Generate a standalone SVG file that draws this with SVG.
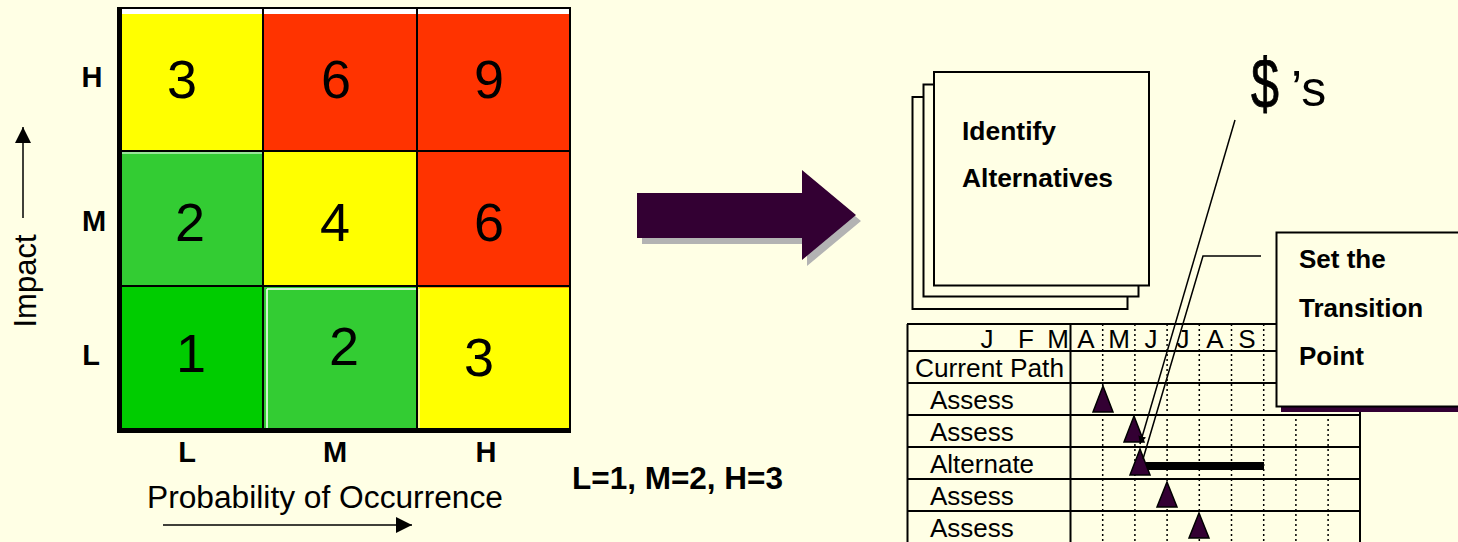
<svg xmlns="http://www.w3.org/2000/svg" width="1458" height="542" viewBox="0 0 1458 542">
<defs>
<style>
text{font-family:"Liberation Sans",Arial,sans-serif;fill:#000}
.num{font-size:54px;text-anchor:middle}
.ax{font-size:29px;font-weight:bold;text-anchor:middle}
.lbl{font-size:31px}
.bold{font-size:26px;font-weight:bold}
.g{font-size:26px}
.gm{font-size:26px;text-anchor:middle}
.gl{stroke:#000;stroke-width:2;fill:none}
.dot{stroke:#000;stroke-width:1.5;stroke-dasharray:2,3;fill:none}
.tri{fill:#330033;stroke:#000;stroke-width:1.5}
.page{fill:#FFFFE5;stroke:#000;stroke-width:2}
.ln{stroke:#000;stroke-width:1.5;fill:none}
</style>
<marker id="ah" viewBox="0 0 10 10" refX="10" refY="5" markerWidth="8" markerHeight="8" orient="auto" markerUnits="userSpaceOnUse">
<path d="M0,0 L10,5 L0,10 z" fill="#000"/>
</marker>
<marker id="axh" viewBox="0 0 10 10" refX="10" refY="5" markerWidth="16" markerHeight="16" orient="auto" markerUnits="userSpaceOnUse">
<path d="M0,0 L10,5 L0,10 z" fill="#000"/>
</marker>
</defs>
<rect width="1458" height="542" fill="#FFFFE5"/>

<g id="matrix">
<rect x="119" y="8" width="451" height="6" fill="#FFFFFF"/>
<rect x="122" y="14" width="141" height="137" fill="#FFFF00"/>
<rect x="263" y="14" width="154" height="137" fill="#FF3300"/>
<rect x="417" y="14" width="153" height="137" fill="#FF3300"/>
<rect x="122" y="152" width="141" height="134" fill="#33CC33"/>
<rect x="263" y="152" width="154" height="134" fill="#FFFF00"/>
<rect x="417" y="152" width="153" height="134" fill="#FF3300"/>
<rect x="122" y="287" width="141" height="141" fill="#00CC00"/>
<rect x="263" y="287" width="154" height="141" fill="#33CC33"/>
<rect x="417" y="287" width="153" height="141" fill="#FFFF00"/>
<line x1="122" y1="153" x2="263" y2="153" stroke="#FFFFFF" stroke-width="1"/>
<line x1="267" y1="289" x2="267" y2="428" stroke="#FFFFFF" stroke-width="1.5"/>
<line x1="267" y1="289" x2="417" y2="289" stroke="#FFFFFF" stroke-width="1.5"/>
<line x1="419" y1="289" x2="419" y2="428" stroke="#FFFFFF" stroke-width="1"/>
<line x1="419" y1="287" x2="570" y2="287" stroke="#FF3300" stroke-width="1"/>
<path class="gl" d="M119,8 H570 V430 M263,8 V430 M417,8 V430 M119,151 H570 M119,286 H570"/>
<line x1="119.5" y1="7" x2="119.5" y2="433" stroke="#000" stroke-width="5"/>
<line x1="117" y1="430.5" x2="571" y2="430.5" stroke="#000" stroke-width="5"/>
<text class="num" x="182" y="98">3</text>
<text class="num" x="336" y="98">6</text>
<text class="num" x="489" y="98">9</text>
<text class="num" x="190" y="241">2</text>
<text class="num" x="335" y="241">4</text>
<text class="num" x="489" y="241">6</text>
<text class="num" x="191" y="372">1</text>
<text class="num" x="344" y="365">2</text>
<text class="num" x="479" y="376">3</text>
</g>

<g id="axis-labels">
<text class="ax" x="92" y="87">H</text>
<text class="ax" x="94" y="231">M</text>
<text class="ax" x="91" y="365">L</text>
<text class="ax" x="187" y="462">L</text>
<text class="ax" x="335" y="462">M</text>
<text class="ax" x="486" y="462">H</text>
<text class="lbl" x="147" y="508" textLength="356" lengthAdjust="spacingAndGlyphs">Probability of Occurrence</text>
<text class="lbl" transform="translate(36,281) rotate(-90)" text-anchor="middle">Impact</text>
<text x="572" y="489" font-size="31" font-weight="bold" textLength="211" lengthAdjust="spacingAndGlyphs">L=1, M=2, H=3</text>
</g>

<g id="connectors">
<line class="ln" x1="163" y1="525" x2="412" y2="525" marker-end="url(#axh)"/>
<line class="ln" x1="23" y1="218" x2="23" y2="127" marker-end="url(#axh)"/>
</g>

<g id="big-arrow">
<polygon points="642,199 807,199 807,176 861,221 807,266 807,244 642,244" fill="#B3B3B3"/>
<polygon points="637,193 802,193 802,170 856,215 802,260 802,238 637,238" fill="#330033"/>
</g>

<g id="identify-alternatives">
<rect class="page" x="912.5" y="97" width="215" height="212"/>
<rect class="page" x="923.5" y="84.5" width="215" height="212"/>
<rect class="page" x="934" y="72" width="215" height="213.5"/>
<text class="bold" x="962" y="140" textLength="94" lengthAdjust="spacingAndGlyphs">Identify</text>
<text class="bold" x="962" y="187" textLength="151" lengthAdjust="spacingAndGlyphs">Alternatives</text>
</g>

<g id="schedule">
<path class="gl" d="M907,324 H1360 M907,351 H1360 M907,383 H1360 M907,415 H1360 M907,447 H1360 M907,479 H1360 M907,511 H1360 M907.5,324 V542 M1070.5,324 V542 M1360,324 V542"/>
<path class="dot" d="M1102.7,324 V542 M1134.9,324 V542 M1167.1,324 V542 M1199.3,324 V542 M1231.5,324 V542 M1263.7,324 V542 M1295.9,324 V542 M1328.1,324 V542"/>
<text class="gm" x="987" y="348">J</text>
<text class="gm" x="1026" y="348">F</text>
<text class="gm" x="1058" y="348">M</text>
<text class="gm" x="1086" y="348">A</text>
<text class="gm" x="1119" y="348">M</text>
<text class="gm" x="1151" y="348">J</text>
<text class="gm" x="1183" y="348">J</text>
<text class="gm" x="1215" y="348">A</text>
<text class="gm" x="1247" y="348">S</text>
<text class="g" x="915" y="377" textLength="149" lengthAdjust="spacingAndGlyphs">Current Path</text>
<text class="g" x="930" y="409">Assess</text>
<text class="g" x="930" y="441">Assess</text>
<text class="g" x="930" y="473">Alternate</text>
<text class="g" x="930" y="505">Assess</text>
<text class="g" x="930" y="537">Assess</text>
<polygon class="tri" points="1103,386 1113,412 1093,412"/>
<polygon class="tri" points="1134,416 1144,442 1124,442"/>
<line x1="1146" y1="466" x2="1264" y2="466" stroke="#000" stroke-width="8"/>
<polygon class="tri" points="1140,449 1150,475 1130,475"/>
<polygon class="tri" points="1167,482 1177,507 1157,507"/>
<polygon class="tri" points="1199,513 1209,538 1189,538"/>
</g>

<g id="dollars">
<text x="1251" y="108" font-size="70" textLength="28" lengthAdjust="spacingAndGlyphs" stroke="#000" stroke-width="0.8">$</text>
<text x="1291" y="106" font-size="50">’s</text>
</g>

<g id="transition-callout">
<rect x="1281" y="237" width="190" height="175" fill="#330033"/>
<rect x="1276.5" y="232.5" width="190" height="174" fill="#FFFFE5" stroke="#000" stroke-width="2"/>
<text class="bold" x="1299" y="268">Set the</text>
<text class="bold" x="1299" y="317">Transition</text>
<text class="bold" x="1299" y="365">Point</text>
</g>

<g id="callout-lines">
<line class="ln" x1="1235" y1="120" x2="1140" y2="444" marker-end="url(#ah)"/>
<polyline class="ln" points="1261,256 1203,256 1143,459"/>
</g>
</svg>
